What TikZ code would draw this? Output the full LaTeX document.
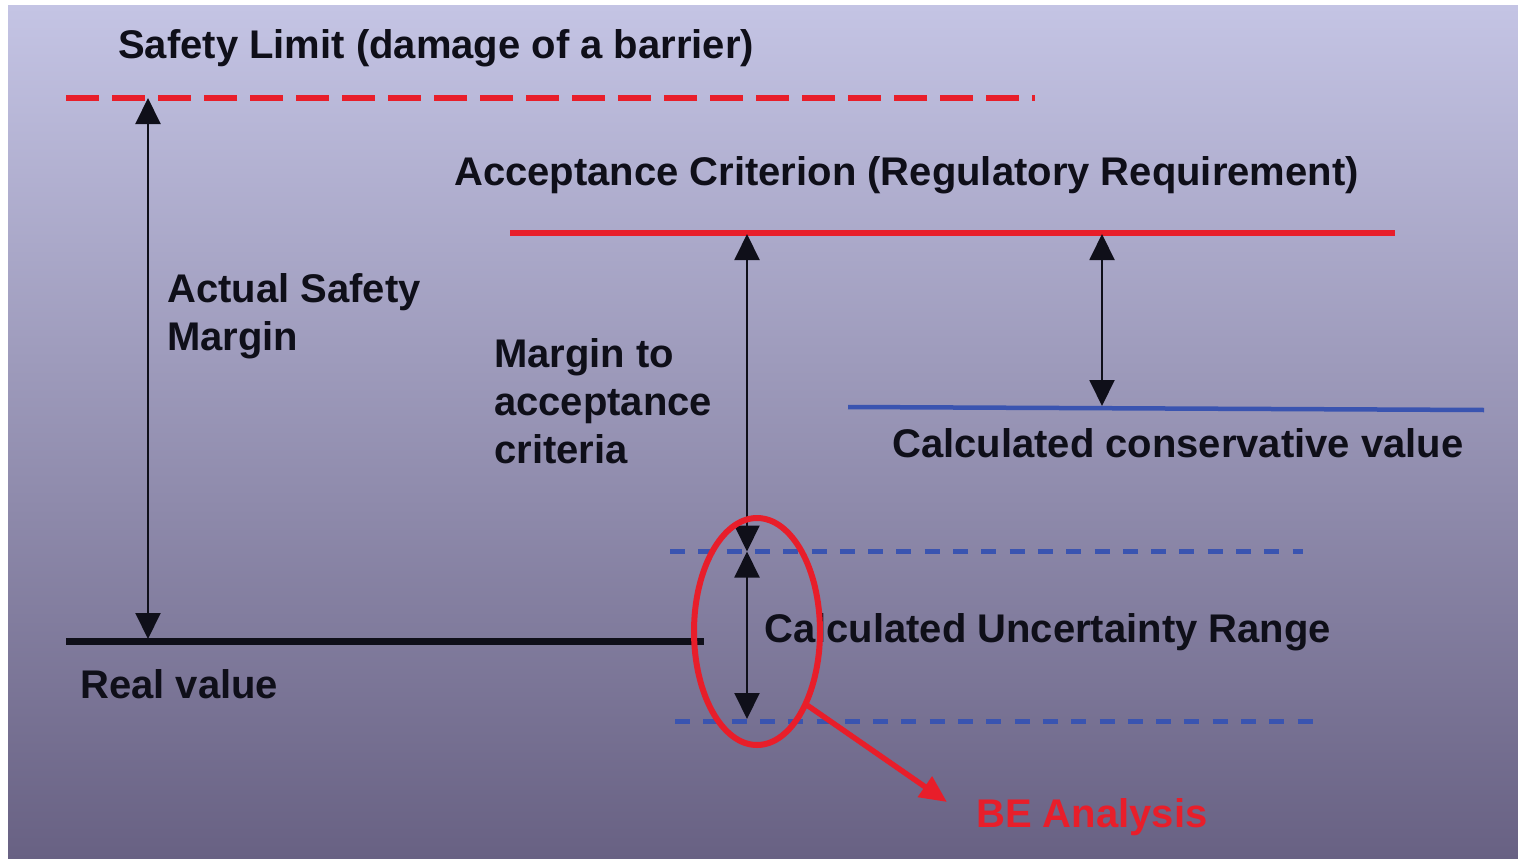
\documentclass[tikz,border=0pt]{standalone}
\usepackage{fontspec}
\setmainfont{Liberation Sans}
\usetikzlibrary{arrows.meta}
\definecolor{bgtop}{RGB}{196,196,228}
\definecolor{bgmid}{RGB}{158,155,203}
\definecolor{bgbot}{RGB}{104,97,131}
\definecolor{myred}{RGB}{232,30,42}
\definecolor{myblue}{RGB}{58,84,176}
\definecolor{txt}{RGB}{15,15,25}
\begin{document}
\begin{tikzpicture}[x=1pt,y=-1pt,
  lbl/.style={inner sep=0pt, anchor=base west, text=txt, font=\fontsize{40}{48}\selectfont\bfseries},
  redlbl/.style={lbl, text=myred},
  dimarrow/.style={line width=2pt, draw=txt, {Triangle[width=25pt,length=26pt]}-{Triangle[width=25pt,length=26pt]}},
  reddash/.style={draw=myred, line width=5.5pt, dash pattern=on 33pt off 13pt},
  redline/.style={draw=myred, line width=5.5pt},
  bluedash/.style={draw=myblue, line width=4.5pt, dash pattern=on 15pt off 13.3pt},
  blueline/.style={draw=myblue, line width=4.5pt},
  blackline/.style={draw=txt, line width=6.5pt}
]
\useasboundingbox (0,0) rectangle (1518,859);
\fill[white] (0,0) rectangle (1518,859);
\shade[top color=bgtop, middle color=bgmid, bottom color=bgbot] (8,6) rectangle (1518,859);

% coordinates
\coordinate (sl1) at (66,98);
\coordinate (sl2) at (1035,98);
\coordinate (ac1) at (510,233);
\coordinate (ac2) at (1395,233);
\coordinate (cv1) at (848,407);
\coordinate (cv2) at (1484,410);
\coordinate (ut1) at (670,551.5);
\coordinate (ut2) at (1303,551.5);
\coordinate (ub1) at (675,721.5);
\coordinate (ub2) at (1313,721.5);
\coordinate (rv1) at (66,641.5);
\coordinate (rv2) at (704,641.5);

\coordinate (a1t) at (148,98);
\coordinate (a1b) at (148,639);
\coordinate (a2t) at (747,234);
\coordinate (a2m) at (747,551.5);
\coordinate (a2b) at (747,719);
\coordinate (a3t) at (1102,234);
\coordinate (a3b) at (1102,406);

% lines
\draw[reddash] (sl1) -- (sl2);
\draw[redline] (ac1) -- (ac2);
\draw[blueline] (cv1) -- (cv2);
\draw[bluedash] (ut1) -- (ut2);
\draw[bluedash] (ub1) -- (ub2);
\draw[blackline] (rv1) -- (rv2);

% arrows
\draw[dimarrow] (a1t) -- (a1b);
\draw[dimarrow] (a2t) -- (a2m);
\draw[dimarrow] (a2m) -- (a2b);
\draw[dimarrow] (a3t) -- (a3b);

% labels
\node[lbl] (safety) at (118,59) {Safety Limit (damage of a barrier)};
\node[lbl] (accept) at (454,185) {Acceptance Criterion (Regulatory Requirement)};
\node[lbl] (asm1) at (167,302) {Actual Safety};
\node[lbl] (asm2) at (167,350) {Margin};
\node[lbl] (mac1) at (494,367) {Margin to};
\node[lbl] (mac2) at (494,415) {acceptance};
\node[lbl] (mac3) at (494,463) {criteria};
\node[lbl] (cons) at (892,457) {Calculated conservative value};
\node[lbl] (unc) at (764,642) {Calculated Uncertainty Range};
\node[lbl] (real) at (80,698) {Real value};

% BE ellipse and arrow
\draw[redline, line width=6pt] (757,631.5) ellipse [x radius=63pt, y radius=113.5pt];
\coordinate (be1) at (804,703);
\coordinate (be2) at (947,802);
\draw[redline, -{Triangle[width=24pt,length=27pt]}] (be1) -- (be2);
\node[redlbl] (be) at (976,827) {BE Analysis};
\end{tikzpicture}
\end{document}
